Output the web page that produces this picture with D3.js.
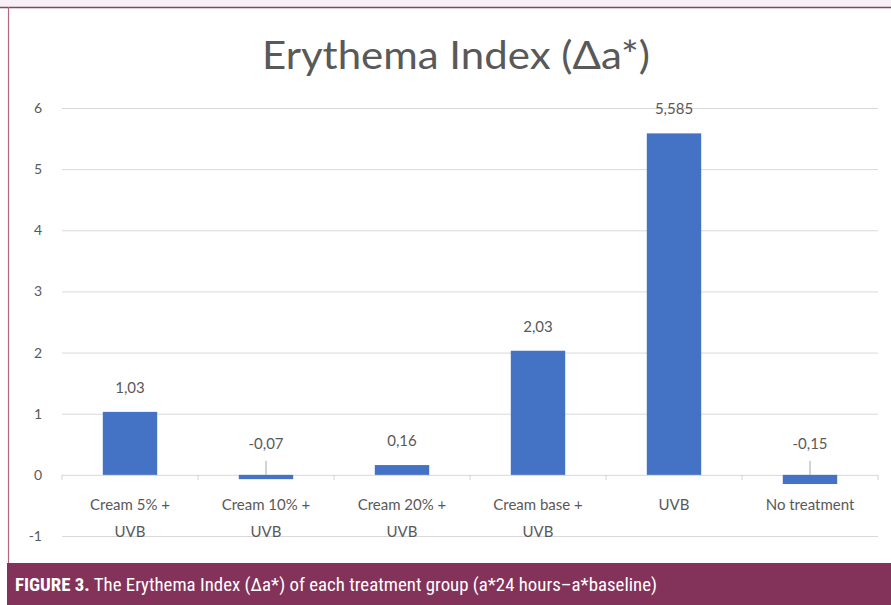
<!DOCTYPE html>
<html>
<head>
<meta charset="utf-8">
<script src="https://cdn.jsdelivr.net/npm/d3@7"></script>
<style>
  html, body { margin: 0; padding: 0; background: #ffffff; }
  svg { display: block; }
</style>
</head>
<body>
<svg id="chart" width="891" height="605"></svg>
<script>
// ---- data ----
const categories = [
  ["Cream 5% +", "UVB"],
  ["Cream 10% +", "UVB"],
  ["Cream 20% +", "UVB"],
  ["Cream base +", "UVB"],
  ["UVB"],
  ["No treatment"]
];
const values = [1.03, -0.07, 0.16, 2.03, 5.585, -0.15];
const yTicks = [-1, 0, 1, 2, 3, 4, 5, 6];
const titleText = "Erythema Index (Δa*)";
const captionBold = "FIGURE 3.";
const captionText = " The Erythema Index (Δa*) of each treatment group (a*24 hours–a*baseline)";

// ---- setup ----
const svg = d3.select("#chart");
const W = 891, H = 605;
const font = "Lato, 'Open Sans', sans-serif";
const gray = "#595959";
const barColor = "#4472C4";

// top light band and frame
svg.append("rect").attr("x", 0).attr("y", 0).attr("width", W).attr("height", 7).attr("fill", "#f7f0f4");
svg.append("line").attr("x1", 0).attr("x2", W).attr("y1", 7.5).attr("y2", 7.5)
  .attr("stroke", "#7d4a63").attr("stroke-width", 1.5);
svg.append("line").attr("x1", 8.5).attr("x2", 8.5).attr("y1", 7).attr("y2", 563)
  .attr("stroke", "#b3687f").attr("stroke-width", 1.2);

const idx = categories.map((d, i) => i);
const x = d3.scaleBand().domain(idx).range([62, 878]).paddingInner(0.6).paddingOuter(0.3);
const y = d3.scaleLinear().domain([-1, 6]).range([536, 108]);
const y0 = y(0);

// gridlines via axis
const gAxisY = svg.append("g").attr("transform", "translate(62,0)")
  .call(d3.axisLeft(y).tickValues(yTicks).tickSize(-(878 - 62)).tickPadding(20).tickFormat(d => String(d)));
gAxisY.select(".domain").remove();
gAxisY.selectAll(".tick line").attr("stroke", "#d9d9d9").attr("stroke-width", 1);
gAxisY.selectAll(".tick text").attr("fill", gray).attr("font-family", font).attr("font-size", 14);

// category tick marks at band boundaries
const step = x.step();
const bounds = d3.range(categories.length + 1).map(i => x.range()[0] + i * step);
svg.append("g").selectAll("line").data(bounds).join("line")
  .attr("x1", d => d).attr("x2", d => d).attr("y1", y0).attr("y2", y0 + 5)
  .attr("stroke", "#d0d0d0").attr("stroke-width", 1);

// bars
svg.append("g").selectAll("rect").data(values).join("rect")
  .attr("x", (d, i) => x(i))
  .attr("width", x.bandwidth())
  .attr("y", d => y(Math.max(0, d)))
  .attr("height", d => Math.abs(y(d) - y0))
  .attr("fill", barColor);

// data labels
const lab = svg.append("g").attr("font-family", font).attr("font-size", 15).attr("fill", gray).attr("text-anchor", "middle");
values.forEach((v, i) => {
  const cx = x(i) + x.bandwidth() / 2;
  const txt = String(v).replace(".", ",");
  if (v >= 0) {
    lab.append("text").attr("x", cx).attr("y", y(v) - 19).text(txt);
  } else {
    lab.append("text").attr("x", cx).attr("y", y0 - 26).text(txt);
    svg.append("line").attr("x1", cx).attr("x2", cx).attr("y1", y0 - 14).attr("y2", y0)
      .attr("stroke", "#a6a6a6").attr("stroke-width", 1);
  }
});

// category labels
const cat = svg.append("g").attr("font-family", font).attr("font-size", 15).attr("fill", gray).attr("text-anchor", "middle");
categories.forEach((lines, i) => {
  const cx = x(i) + x.bandwidth() / 2;
  lines.forEach((t, j) => {
    cat.append("text").attr("x", cx).attr("y", 510 + j * 27).text(t);
  });
});

// title
svg.append("text").attr("x", 456).attr("y", 69).attr("text-anchor", "middle")
  .attr("font-family", font).attr("font-size", 38).attr("fill", gray)
  .attr("textLength", 388).attr("lengthAdjust", "spacingAndGlyphs").text(titleText);

// caption bar
svg.append("rect").attr("x", 7).attr("y", 563).attr("width", W - 7).attr("height", H - 563).attr("fill", "#83325a");
const cap = svg.append("text").attr("x", 15).attr("y", 591)
  .attr("font-family", "'Liberation Sans Narrow', 'Roboto Condensed', Roboto, sans-serif")
  .attr("font-size", 18).attr("fill", "#ffffff")
  .attr("textLength", 642).attr("lengthAdjust", "spacingAndGlyphs");
cap.append("tspan").attr("font-weight", "bold").text(captionBold);
cap.append("tspan").text(captionText);
</script>
</body>
</html>
